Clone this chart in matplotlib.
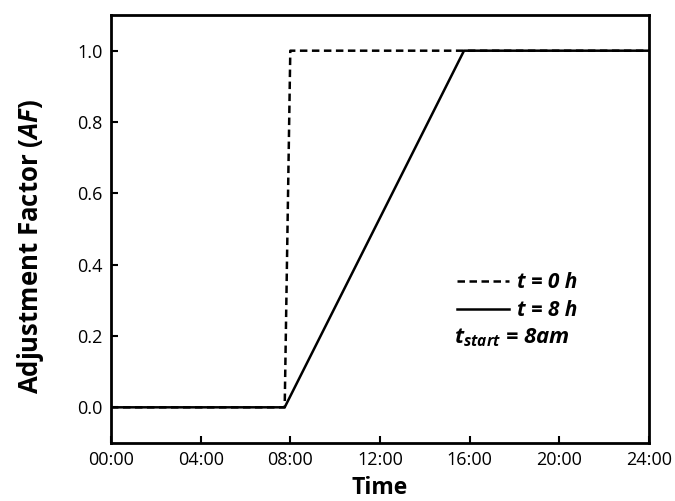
import matplotlib
matplotlib.use('Agg')
import matplotlib.pyplot as plt

plt.rcParams['font.family'] = ['Open Sans', 'DejaVu Sans']
plt.rcParams['mathtext.fontset'] = 'custom'
plt.rcParams['mathtext.it'] = 'Open Sans:italic:bold'
plt.rcParams['mathtext.rm'] = 'Open Sans:bold'

# hours of the day and adjustment factor for both ramp durations
hours_0h = [0.0, 7.75, 8.0, 24.0]
af_0h = [0.0, 0.0, 1.0, 1.0]
hours_8h = [0.0, 7.75, 15.75, 24.0]
af_8h = [0.0, 0.0, 1.0, 1.0]

xticks = [0, 4, 8, 12, 16, 20, 24]
xlabels = ['00:00', '04:00', '08:00', '12:00', '16:00', '20:00', '24:00']
yticks = [0.0, 0.2, 0.4, 0.6, 0.8, 1.0]

fig = plt.figure(figsize=(6.75, 5.01), dpi=100)
ax = fig.add_axes([0.1644, 0.1158, 0.797, 0.8542])

ax.plot(hours_0h, af_0h, color='black', lw=1.8, ls=(0, (3, 1.8)), label='t = 0 h')
ax.plot(hours_8h, af_8h, color='black', lw=1.8, label='t = 8 h')

ax.set_xlim(0, 24)
ax.set_ylim(-0.1, 1.1)
ax.set_xticks(xticks)
ax.set_xticklabels(xlabels)
ax.set_yticks(yticks)
ax.set_yticklabels(['%.1f' % v for v in yticks])
ax.tick_params(direction='in', length=5, width=1.5, labelsize=13, pad=6)

for spine in ax.spines.values():
    spine.set_linewidth(2)

ax.set_xlabel('Time', fontsize=16.5, fontweight='bold', labelpad=5)
ax.set_ylabel('Adjustment Factor ($AF$)', fontsize=18.5, fontweight='bold')
ax.yaxis.set_label_coords(-0.121, 0.458)

leg = ax.legend(loc='upper left', bbox_to_anchor=(0.643, 0.40), frameon=False,
                handlelength=2.5, handletextpad=0.4, labelspacing=0.35,
                borderpad=0, borderaxespad=0,
                prop={'weight': 'bold', 'style': 'italic', 'size': 15})

ax.text(0.638, 0.245, '$t_{start}$ = 8am', transform=ax.transAxes,
        fontsize=16, fontweight='bold', style='italic', va='center', ha='left')

fig.savefig('out.png', dpi=100)
